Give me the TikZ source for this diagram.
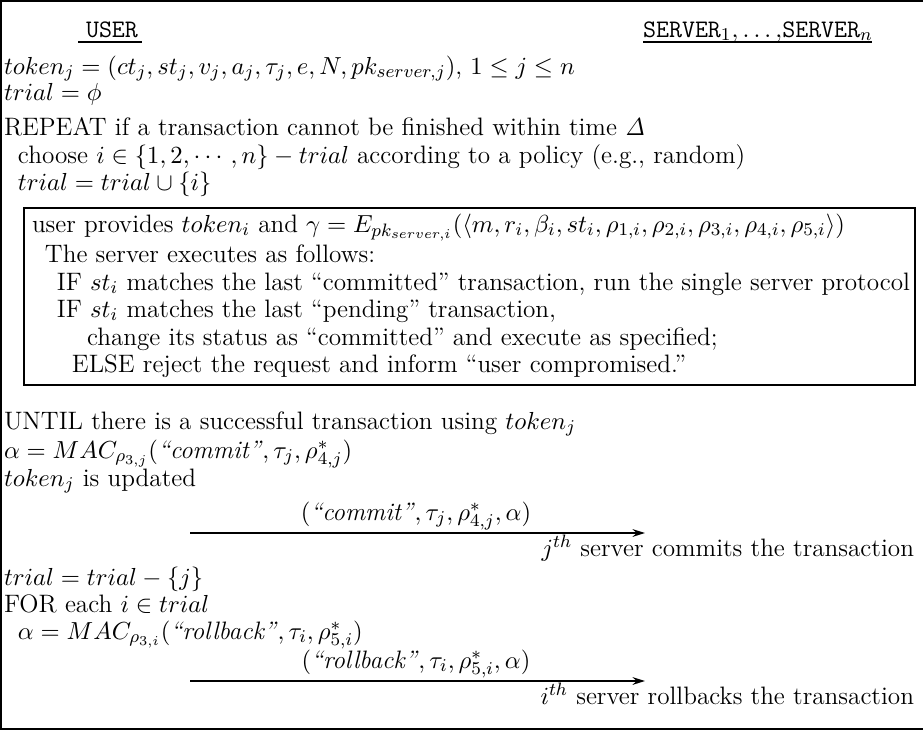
\documentclass[tikz,border=0pt]{standalone}
\usepackage{amsmath,amssymb}
\usetikzlibrary{arrows.meta}
\begin{document}
\begin{tikzpicture}[x=0.4444pt,y=-0.4444pt,
  txt/.style={anchor=base west,inner sep=0pt,outer sep=0pt,font=\fontsize{11.2}{13}\selectfont},
  rtxt/.style={anchor=base east,inner sep=0pt,outer sep=0pt,font=\fontsize{11.2}{13}\selectfont},
  ctxt/.style={anchor=base,inner sep=0pt,outer sep=0pt,font=\fontsize{11.2}{13}\selectfont},
  frameline/.style={line width=0.9pt},
  boxline/.style={line width=1.1pt},
  msg/.style={line width=0.8pt,-{Stealth[length=5.5pt,width=3.4pt]}},
  uline/.style={line width=0.9pt}]
\useasboundingbox (0,0) rectangle (923,730);
% outer frame (open on the right)
\coordinate (ftr) at (923,1);
\coordinate (ftl) at (1,1);
\coordinate (fbl) at (1,729);
\coordinate (fbr) at (923,729);
\draw[frameline] (ftr) -- (ftl) -- (fbl) -- (fbr);
% headers
\node[ctxt] (user) at (112,37) {\texttt{USER}};
\node[ctxt] (servers) at (758,37) {\texttt{SERVER}$_1,\ldots,$\texttt{SERVER}$_n$};
\coordinate (u1) at (78,42); \coordinate (u2) at (142,42);
\coordinate (s1) at (643,42); \coordinate (s2) at (872,42);
\draw[uline] (u1) -- (u2);
\draw[uline] (s1) -- (s2);
% body
\node[txt] (l1) at (4,74) {$token_j=(ct_j,st_j,v_j,a_j,\tau_j,e,N,pk_{server,j})$, $1\le j\le n$};
\node[txt] (l2) at (4,100) {$trial=\phi$};
\node[txt] (l3) at (4,135) {REPEAT if a transaction cannot be finished within time $\mathit{\Delta}$};
\node[txt] (l4) at (18,163) {choose $i\in\{1,2,\cdots,n\}-trial$ according to a policy (e.g., random)};
\node[txt] (l5) at (18,190) {$trial=trial\cup\{i\}$};
% inner box
\coordinate (b1) at (24,208);
\coordinate (b2) at (915,385);
\draw[boxline] (b1) rectangle (b2);
\node[txt] (b_l1) at (32,232) {user provides $token_i$ and $\gamma=E_{pk_{server,i}}(\langle m,r_i,\beta_i,st_i,\rho_{1,i},\rho_{2,i},\rho_{3,i},\rho_{4,i},\rho_{5,i}\rangle)$};
\node[txt] (b_l2) at (45,262) {The server executes as follows:};
\node[txt] (b_l3) at (57,290) {IF $st_i$ matches the last ``committed'' transaction, run the single server protocol};
\node[txt] (b_l4) at (57,317) {IF $st_i$ matches the last ``pending'' transaction,};
\node[txt] (b_l5) at (87,345) {change its status as ``committed'' and execute as specified;};
\node[txt] (b_l6) at (72,372) {ELSE reject the request and inform ``user compromised.''};
% after box
\node[txt] (l6) at (4,429) {UNTIL there is a successful transaction using $token_j$};
\node[txt] (l7) at (4,458) {$\alpha=MAC_{\rho_{3,j}}(\text{\textit{``commit''}},\tau_j,\rho^*_{4,j})$};
\node[txt] (l8) at (4,486) {$token_j$ is updated};
\coordinate (c1) at (190,533);
\coordinate (c2) at (645,533);
\node[ctxt] (clab) at (416,520) {$(\text{\textit{``commit''}},\tau_j,\rho^*_{4,j},\alpha)$};
\draw[msg] (c1) -- (c2);
\node[rtxt] (cres) at (914,556) {$j^{th}$ server commits the transaction};
\node[txt] (l9) at (4,585) {$trial=trial-\{j\}$};
\node[txt] (l10) at (4,612) {FOR each $i\in trial$};
\node[txt] (l11) at (18,639) {$\alpha=MAC_{\rho_{3,i}}(\text{\textit{``rollback''}},\tau_i,\rho^*_{5,i})$};
\coordinate (r1) at (190,681);
\coordinate (r2) at (645,681);
\node[ctxt] (rlab) at (416,668) {$(\text{\textit{``rollback''}},\tau_i,\rho^*_{5,i},\alpha)$};
\draw[msg] (r1) -- (r2);
\node[rtxt] (rres) at (914,704) {$i^{th}$ server rollbacks the transaction};
\end{tikzpicture}
\end{document}
